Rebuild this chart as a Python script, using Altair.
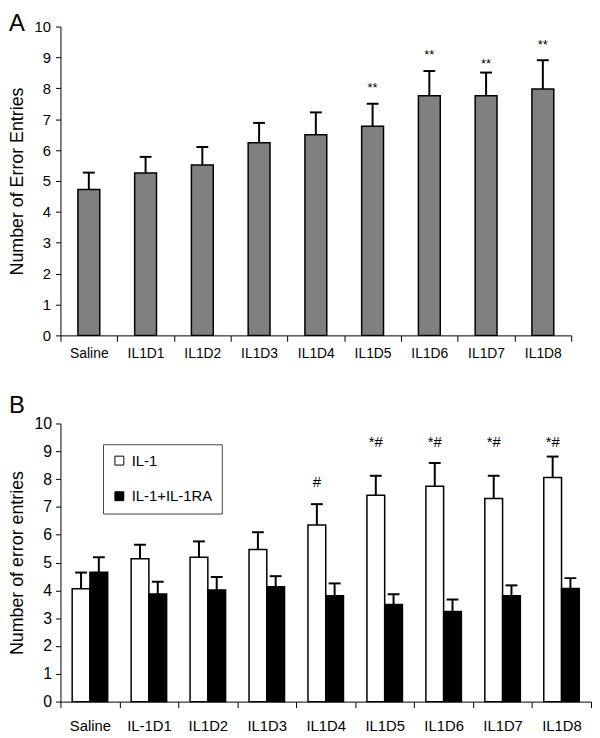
import altair as alt
import pandas as pd

FONT = "Liberation Sans"

# ---------------- Panel A data ----------------
cats_a = ["Saline", "IL1D1", "IL1D2", "IL1D3", "IL1D4", "IL1D5", "IL1D6", "IL1D7", "IL1D8"]
means_a = [4.72, 5.26, 5.52, 6.24, 6.50, 6.77, 7.76, 7.76, 7.98]
errs_a = [0.55, 0.52, 0.58, 0.64, 0.72, 0.73, 0.80, 0.75, 0.93]
sig_a_cats = ["IL1D5", "IL1D6", "IL1D7", "IL1D8"]
sig_a_labels = ["**", "**", "**", "**"]
sig_a_y = [7.87, 8.94, 8.67, 9.26]

# ---------------- Panel B data ----------------
cats_b = ["Saline", "IL-1D1", "IL1D2", "IL1D3", "IL1D4", "IL1D5", "IL1D6", "IL1D7", "IL1D8"]
series_b = ["IL-1", "IL-1+IL-1RA"]
il1_means = [4.06, 5.14, 5.19, 5.47, 6.35, 7.42, 7.74, 7.30, 8.06]
il1_errs = [0.58, 0.50, 0.57, 0.62, 0.75, 0.70, 0.84, 0.82, 0.75]
ra_means = [4.65, 3.87, 4.01, 4.13, 3.81, 3.49, 3.24, 3.81, 4.07]
ra_errs = [0.54, 0.44, 0.47, 0.38, 0.44, 0.37, 0.43, 0.37, 0.37]
sig_b_cats = ["IL1D4", "IL1D5", "IL1D6", "IL1D7", "IL1D8"]
sig_b_labels = ["#", "*#", "*#", "*#", "*#"]
sig_b_y = [7.73, 9.16, 9.16, 9.16, 9.16]

y_ticks = [0, 1, 2, 3, 4, 5, 6, 7, 8, 9, 10]

df_a = pd.DataFrame({"cat": cats_a, "mean": means_a, "err": errs_a})
df_a["upper"] = df_a["mean"] + df_a["err"]
sig_a = pd.DataFrame({"cat": sig_a_cats, "label": sig_a_labels, "y": sig_a_y})

df_b = pd.DataFrame({
    "cat": cats_b * 2,
    "series": [series_b[0]] * len(cats_b) + [series_b[1]] * len(cats_b),
    "mean": il1_means + ra_means,
    "err": il1_errs + ra_errs,
})
df_b["upper"] = df_b["mean"] + df_b["err"]
sig_b = pd.DataFrame({"cat": sig_b_cats, "series": [series_b[0]] * len(sig_b_cats),
                      "label": sig_b_labels, "y": sig_b_y})

# ---------------- Panel A ----------------
xA = alt.X("cat:N", sort=cats_a, scale=alt.Scale(paddingInner=0, paddingOuter=0),
           axis=alt.Axis(title=None, labelAngle=0, tickBand="extent", tickSize=6,
                         labelPadding=5, labelFontSize=14))
xA_plain = alt.X("cat:N", sort=cats_a)
yA_axis = alt.Axis(values=y_ticks, tickCount=len(y_ticks) + 1, labelOverlap=False,
                   title="Number of Error Entries", titleFontSize=18, labelFontSize=15,
                   tickSize=5, labelPadding=5, titlePadding=8)
yA = alt.Y("mean:Q", scale=alt.Scale(domain=[0, 10], nice=False), axis=yA_axis)

bars_a = alt.Chart(df_a).mark_bar(width={"band": 0.385}, fill="#808080", stroke="black",
                                  strokeWidth=1.5).encode(x=xA, y=yA)
err_a = alt.Chart(df_a).mark_rule(color="black", strokeWidth=2).encode(
    x=xA_plain, y="mean:Q", y2="upper:Q")
cap_a = alt.Chart(df_a).mark_tick(color="black", size=12, thickness=2, opacity=1).encode(
    x=xA_plain, y="upper:Q")
txt_a = alt.Chart(sig_a).mark_text(fontSize=13, font=FONT, baseline="alphabetic",
                                   align="center", color="black").encode(
    x=xA_plain, y="y:Q", text="label:N")
lab_a = alt.Chart(pd.DataFrame({"t": ["A"]})).mark_text(
    fontSize=24, font=FONT, align="left", baseline="top", color="black").encode(
    x=alt.value(-52), y=alt.value(-15), text="t:N")

panel_a = alt.layer(bars_a, err_a, cap_a, txt_a, lab_a).properties(width=516, height=312)

# ---------------- Panel B ----------------
xB = alt.X("cat:N", sort=cats_b, scale=alt.Scale(paddingInner=0, paddingOuter=0),
           axis=alt.Axis(title=None, labelAngle=0, tickBand="extent", tickSize=6,
                         labelPadding=11, labelFontSize=15))
xB_plain = alt.X("cat:N", sort=cats_b)
xoff = alt.XOffset("series:N", sort=series_b,
                   scale=alt.Scale(domain=series_b, paddingInner=0, paddingOuter=0.66))
yB_axis = alt.Axis(values=y_ticks, tickCount=len(y_ticks) + 1, labelOverlap=False,
                   title="Number of error entries", titleFontSize=18, labelFontSize=16,
                   tickSize=5, labelPadding=4, titlePadding=8)
yB = alt.Y("mean:Q", scale=alt.Scale(domain=[0, 10], nice=False), axis=yB_axis)

bars_b = alt.Chart(df_b).mark_bar(stroke="black", strokeWidth=1.5).encode(
    x=xB, xOffset=xoff, y=yB,
    fill=alt.Fill("series:N", sort=series_b,
                  scale=alt.Scale(domain=series_b, range=["white", "black"]),
                  legend=alt.Legend(title=None, orient="none", legendX=43, legendY=21,
                                    direction="vertical", symbolType="square",
                                    symbolSize=81, symbolStrokeColor="black",
                                    symbolStrokeWidth=1, labelFontSize=15, labelFont=FONT,
                                    labelColor="black", labelOffset=5, padding=9,
                                    rowPadding=20, strokeColor="#444444",
                                    fillColor="white")))
err_b = alt.Chart(df_b).mark_rule(color="black", strokeWidth=2).encode(
    x=xB_plain, xOffset=xoff, y="mean:Q", y2="upper:Q")
cap_b = alt.Chart(df_b).mark_tick(color="black", size=12, thickness=2, opacity=1).encode(
    x=xB_plain, xOffset=xoff, y="upper:Q")
txt_b = alt.Chart(sig_b).mark_text(fontSize=15, font=FONT, baseline="alphabetic",
                                   align="center", color="black").encode(
    x=xB_plain, xOffset=xoff, y="y:Q", text="label:N")
lab_b = alt.Chart(pd.DataFrame({"t": ["B"]})).mark_text(
    fontSize=24, font=FONT, align="left", baseline="top", color="black").encode(
    x=alt.value(-52), y=alt.value(-30), text="t:N")

panel_b = alt.layer(bars_b, err_b, cap_b, txt_b, lab_b).properties(width=536, height=281)

chart = alt.vconcat(panel_a, panel_b, spacing=34).resolve_legend(
    fill="independent"
).properties(
    padding=0
).configure_view(stroke=None).configure_axis(
    domainColor="black", tickColor="black", labelColor="black", titleColor="black",
    labelFont=FONT, titleFont=FONT, grid=False, titleFontWeight="normal",
    domainWidth=1, tickWidth=1
)

chart.save("out.html", embed_options={"renderer": "svg", "actions": False})
